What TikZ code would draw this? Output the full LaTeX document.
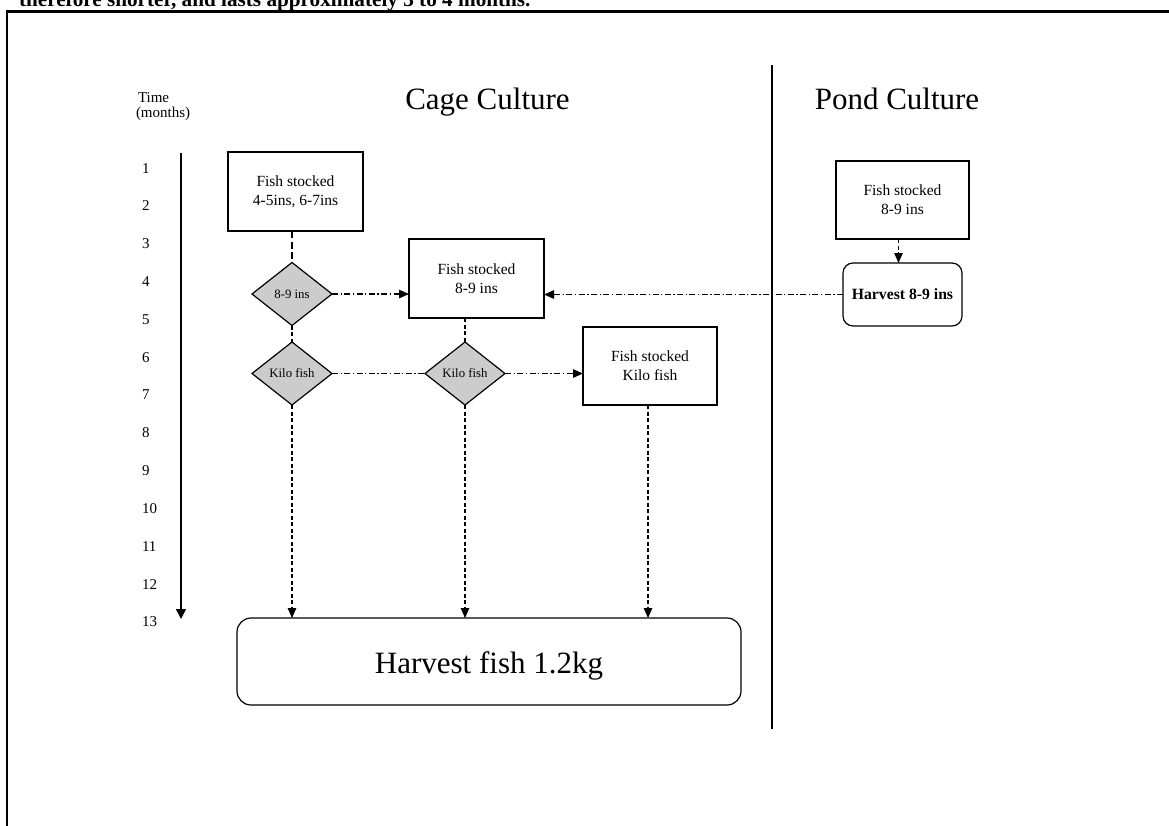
\documentclass[tikz,border=0pt]{standalone}
\usepackage{fontspec}
\setmainfont{Liberation Serif}
\usetikzlibrary{shapes.geometric,arrows.meta,calc}

\begin{document}
\begin{tikzpicture}[x=1pt,y=-1pt,
  every node/.style={inner sep=0pt, outer sep=0pt},
  stockbox/.style={draw, line width=1.2pt, minimum width=135pt, minimum height=79pt,
    align=center, font=\fontsize{15.5}{19}\selectfont},
  decide/.style={diamond, draw, line width=1.2pt, fill=black!20,
    minimum width=80pt, minimum height=63pt, font=\fontsize{12.8}{15}\selectfont},
  harvbox/.style={draw, rounded corners=10pt, line width=1.2pt,
    minimum width=119pt, minimum height=63pt, font=\bfseries\fontsize{15.7}{19}\selectfont},
  bigbox/.style={draw, rounded corners=14pt, line width=1.2pt,
    minimum width=504pt, minimum height=87pt, text height=26pt, text depth=3pt,
    font=\fontsize{31}{31}\selectfont},
  title/.style={anchor=base, font=\fontsize{31}{31}\selectfont},
  monthlabel/.style={anchor=base west, font=\fontsize{15}{15}\selectfont},
  tip/.style={-{Triangle[length=10pt,width=8.5pt]}},
  dashline/.style={line width=1.2pt, dash pattern=on 4pt off 2.5pt},
  thickdash/.style={line width=2.3pt, dash pattern=on 7pt off 3.5pt},
  dotdash/.style={line width=1.2pt, dash pattern=on 6pt off 2.5pt on 1.3pt off 2.5pt},
]
\useasboundingbox (0,0) rectangle (1169,825);

% page frame and the end of the paragraph above it
\coordinate (fr1) at (7,830);
\coordinate (fr2) at (7,11.5);
\coordinate (fr3) at (1175,11.5);
\draw[line width=2.5pt] (fr1) -- (fr2) -- (fr3);
\node[anchor=base west, font=\bfseries\fontsize{21.2}{21.2}\selectfont] (intro) at (19,6)
  {therefore shorter, and lasts approximately 3 to 4 months.};

% headings and the divider between the two systems
\node[title] (cage) at (487.5,109) {Cage Culture};
\node[title] (pond) at (897,109) {Pond Culture};
\coordinate (divtop) at (772,65);
\coordinate (divbot) at (772,729);
\draw[line width=1.3pt] (divtop) -- (divbot);

% time axis
\node[monthlabel] (timelbl) at (138,102) {Time};
\node[monthlabel] (monthslbl) at (136,117) {(months)};
\foreach \m in {1,...,13}
  \node[monthlabel] (m\m) at (142,{173+(\m-1)*37.83}) {\m};
\coordinate (axtop) at (181,153);
\coordinate (axend) at (181,619);
\draw[line width=1.4pt, -{Triangle[length=10pt,width=10pt]}] (axtop) -- (axend);

% cage culture
\node[stockbox] (s1) at (295.5,191.5) {Fish stocked\\4-5ins, 6-7ins};
\node[decide] (d1) at (292,294) {8-9 ins};
\node[stockbox] (s2) at (476.5,278.5) {Fish stocked\\8-9 ins};
\node[decide] (d2) at (292,373.5) {Kilo fish};
\node[decide] (d3) at (465,373.5) {Kilo fish};
\node[stockbox, minimum width=134pt, minimum height=78pt] (s3) at (650,366) {Fish stocked\\Kilo fish};
\node[bigbox] (big) at (489,661.5) {Harvest fish 1.2kg};

% pond culture
\node[stockbox, minimum width=133pt, minimum height=78pt] (p1) at (902.5,200) {Fish stocked\\8-9 ins};
\node[harvbox] (ph) at (902.5,294.5) {Harvest 8-9 ins};

% connectors
\draw[thickdash] (d1 |- s1.south) -- (d1.north);
\draw[dashline] (d1.south) -- (d2.north);
\draw[dashline] (d3 |- s2.south) -- (d3.north);
\draw[dotdash, tip] (d1.east) -- (d1.east -| s2.west);
\draw[dotdash] (d2.east) -- (d3.west);
\draw[dotdash, tip] (d3.east) -- (d3.east -| s3.west);
\draw[dashline, tip] ([xshift=-4pt]p1.south) -- ([xshift=-4pt]ph.north);
\draw[dotdash, tip] (ph.west) -- (ph.west -| s2.east);
\draw[dashline, tip] (d2.south) -- (d2.south |- big.north);
\draw[dashline, tip] (d3.south) -- (d3.south |- big.north);
\draw[dashline, tip] ([xshift=-2pt]s3.south) -- ([xshift=-2pt]s3.south |- big.north);
\end{tikzpicture}
\end{document}
